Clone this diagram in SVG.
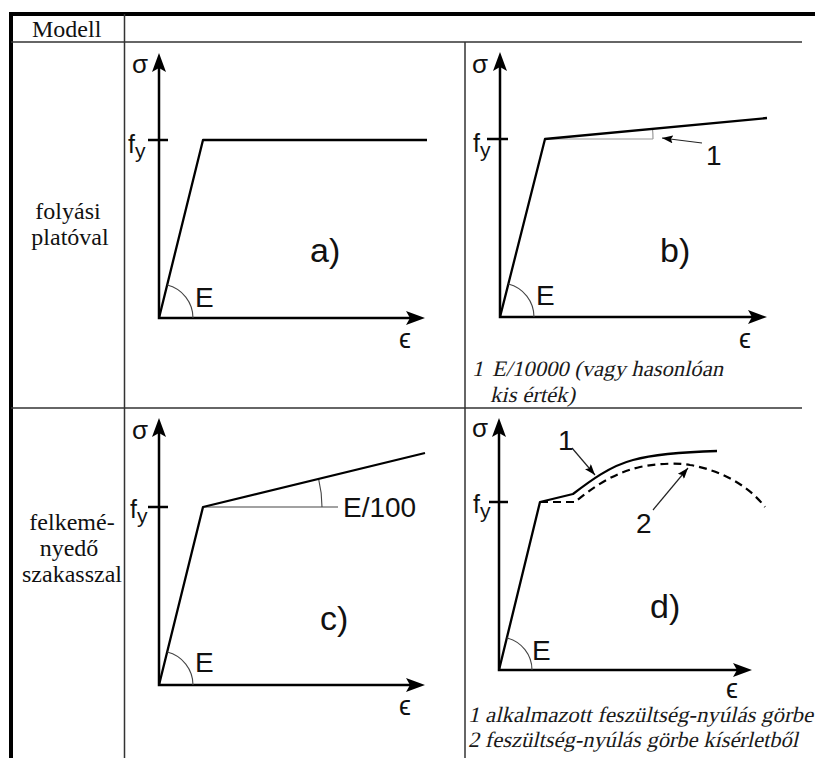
<svg xmlns="http://www.w3.org/2000/svg" xmlns:xlink="http://www.w3.org/1999/xlink" width="815" height="758" viewBox="0 0 815 758">
<style>
.ax{stroke:#000;stroke-width:2.5;fill:none}
.cv{stroke:#000;stroke-width:2.3;fill:none;stroke-linejoin:round}
.dash{stroke:#000;stroke-width:2.2;fill:none;stroke-dasharray:8 5}
.thin{stroke:#444;stroke-width:1.1;fill:none}
.gray{stroke:#999;stroke-width:1.2;fill:none}
.lead{stroke:#222;stroke-width:1.2;fill:none}
.tab{stroke:#333;stroke-width:1.5;fill:none}
.frame{stroke:#000;stroke-width:4;fill:none}
.s{font-family:"Liberation Sans",Arial,"DejaVu Sans",sans-serif;fill:#111}
.g{font-size:26px}
.f{font-size:25px}
.sub{font-size:21px}
.e{font-size:28px}
.lab{font-size:34px}
.ep{font-size:27px}
.num{font-size:28px}
.r{font-family:"Liberation Serif","Times New Roman",serif;font-size:24px;fill:#111}
.it{font-family:"Liberation Serif","Times New Roman",serif;font-size:22px;fill:#1a1a1a}
</style>
<defs>
<path id="ah" d="M0,0 L-19,-7 L-15,0 L-19,7 Z" fill="#000"/>
<marker id="sm" markerUnits="userSpaceOnUse" markerWidth="12" markerHeight="8" refX="11" refY="4" orient="auto"><path d="M0,0 L11,4 L0,8 L2,4 Z" fill="#000"/></marker>
</defs>
<rect width="815" height="758" fill="#fff"/>

<g id="table">
<line class="frame" x1="9" y1="14" x2="815" y2="14"/>
<line class="frame" x1="11" y1="12" x2="11" y2="758"/>
<line class="tab" x1="11" y1="42" x2="802" y2="42"/>
<line class="tab" x1="11" y1="408" x2="802" y2="408"/>
<line class="tab" x1="124.5" y1="14" x2="124.5" y2="758"/>
<line class="tab" x1="465" y1="42" x2="465" y2="758"/>
<text class="r" x="32" y="37">Modell</text>
<text class="r" x="68" y="219" text-anchor="middle">folyási</text>
<text class="r" x="70" y="245" text-anchor="middle">platóval</text>
<text class="r" x="72" y="530" text-anchor="middle">felkemé-</text>
<text class="r" x="69" y="556" text-anchor="middle">nyedő</text>
<text class="r" x="72" y="582" text-anchor="middle">szakasszal</text>
</g>

<g id="panel-a">
<path class="ax" d="M159,62 V318 H414"/>
<use xlink:href="#ah" transform="translate(425,318)"/>
<use xlink:href="#ah" transform="translate(159,53) rotate(-90)"/>
<path class="ax" d="M148,140 H168"/>
<path class="cv" d="M159,318 L203,140 H427"/>
<path class="thin" d="M193,318 A34,34 0 0 0 167.2,285"/>
<text class="s g" x="132" y="73">σ</text>
<text class="s f" x="128" y="153">f<tspan class="sub" dy="5">y</tspan></text>
<text class="s e" x="195" y="307">E</text>
<text class="s lab" x="310" y="262">a)</text>
<text class="s ep" x="399" y="348">ϵ</text>
</g>

<g id="panel-b">
<path class="ax" d="M500,61 V317 H756"/>
<use xlink:href="#ah" transform="translate(767,317)"/>
<use xlink:href="#ah" transform="translate(500,52) rotate(-90)"/>
<path class="ax" d="M487,139 H508"/>
<path class="gray" d="M545,139 H653"/>
<path class="gray" d="M653,139 A108,108 0 0 0 652.5,128.8"/>
<path class="cv" d="M500,317 L545,139 L767,118"/>
<path class="thin" d="M534,317 A34,34 0 0 0 508.3,284"/>
<path class="lead" d="M702,143 L662,138" marker-end="url(#sm)"/>
<text class="s num" x="706" y="165">1</text>
<text class="s g" x="472" y="73">σ</text>
<text class="s f" x="473" y="152">f<tspan class="sub" dy="5">y</tspan></text>
<text class="s e" x="536" y="305">E</text>
<text class="s lab" x="660" y="262">b)</text>
<text class="s ep" x="739" y="348">ϵ</text>
<g transform="translate(472,376) skewX(-13)">
<text class="it" x="0" y="0">1<tspan x="20" textLength="231" lengthAdjust="spacingAndGlyphs">E/10000 (vagy hasonlóan</tspan></text>
</g>
<g transform="translate(490,402) skewX(-13)">
<text class="it" x="0" y="0" textLength="85" lengthAdjust="spacingAndGlyphs">kis érték)</text>
</g>
</g>

<g id="panel-c">
<path class="ax" d="M159,427 V685 H414"/>
<use xlink:href="#ah" transform="translate(425,685)"/>
<use xlink:href="#ah" transform="translate(159,418) rotate(-90)"/>
<path class="ax" d="M148,507 H168"/>
<path class="thin" d="M203,507 H338"/>
<path class="thin" d="M322,507 A119,119 0 0 0 318.6,478.8"/>
<path class="cv" d="M159,685 L203,507 L425,453"/>
<path class="thin" d="M193,685 A34,34 0 0 0 167.2,652"/>
<text class="s e" x="343" y="517">E/100</text>
<text class="s g" x="132" y="439">σ</text>
<text class="s f" x="130" y="518">f<tspan class="sub" dy="5">y</tspan></text>
<text class="s e" x="195" y="672">E</text>
<text class="s lab" x="320" y="630">c)</text>
<text class="s ep" x="399" y="715">ϵ</text>
</g>

<g id="panel-d">
<path class="ax" d="M499,427 V670 H741"/>
<use xlink:href="#ah" transform="translate(752,670)"/>
<use xlink:href="#ah" transform="translate(499,418) rotate(-90)"/>
<path class="ax" d="M489,502 H508"/>
<path class="dash" d="M540,502 L575,502 C590,490 610,474 640,467 C660,463 680,463 690,465 C720,470 748,485 765,507"/>
<path class="cv" d="M499,670 L540,502 L573,494 C590,481 610,466 633,460 C655,454 680,452 717,451"/>
<path class="thin" d="M532,670 A33,33 0 0 0 506.8,637.9"/>
<path class="lead" d="M572,448 L595,475" marker-end="url(#sm)"/>
<path class="lead" d="M653,510 L688,468" marker-end="url(#sm)"/>
<text class="s num" x="558" y="450">1</text>
<text class="s num" x="636" y="533">2</text>
<text class="s g" x="472" y="437">σ</text>
<text class="s f" x="473" y="513">f<tspan class="sub" dy="5">y</tspan></text>
<text class="s e" x="532" y="660">E</text>
<text class="s lab" x="650" y="618">d)</text>
<text class="s ep" x="726" y="698">ϵ</text>
<g transform="translate(468,722) skewX(-13)">
<text class="it" x="0" y="0" textLength="345" lengthAdjust="spacingAndGlyphs">1 alkalmazott feszültség-nyúlás görbe</text>
</g>
<g transform="translate(468,747) skewX(-13)">
<text class="it" x="0" y="0" textLength="330" lengthAdjust="spacingAndGlyphs">2 feszültség-nyúlás görbe kísérletből</text>
</g>
</g>
</svg>
